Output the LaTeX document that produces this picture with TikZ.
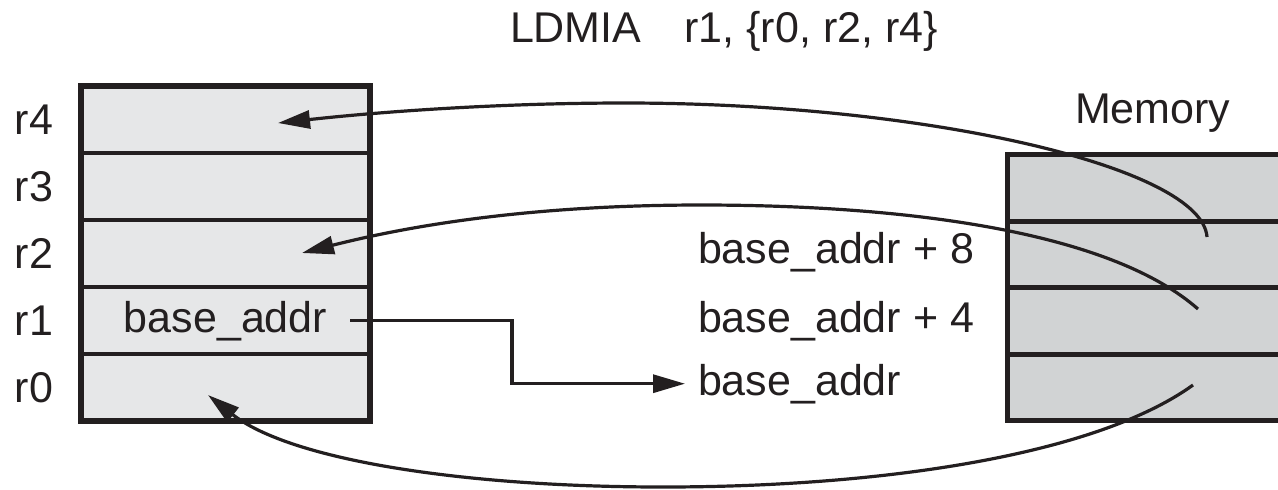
\documentclass[tikz,border=0pt]{standalone}
\usepackage{fontspec}
\setmainfont{Liberation Sans}
\usetikzlibrary{arrows.meta}
\definecolor{ink}{HTML}{231F20}
\definecolor{regfill}{HTML}{E6E7E8}
\definecolor{memfill}{HTML}{D1D3D4}
\begin{document}
\begin{tikzpicture}[x=0.5pt,y=-0.5pt,
  txt/.style={text=ink, inner sep=0pt, outer sep=0pt, font=\fontsize{21.5}{26}\selectfont},
  regcell/.style={draw=ink, fill=regfill, line width=1.7pt, minimum width=144.5pt, minimum height=33.5pt, inner sep=0pt, outer sep=0pt},
  memcell/.style={draw=ink, fill=memfill, line width=2.5pt, minimum width=146.25pt, minimum height=33.25pt, inner sep=0pt, outer sep=0pt},
  conn/.style={draw=ink, line width=1.6pt, -{Triangle[length=16pt,width=9pt]}}
]
\useasboundingbox (0,0) rectangle (1278,489);
\clip (0,0) rectangle (1278,489);

% register file
\node[regcell] (c4) at (225.5,119.5) {};
\node[regcell] (c3) at (225.5,186.5) {};
\node[regcell] (c2) at (225.5,253.5) {};
\node[regcell] (c1) at (225.5,320.5) {};
\node[regcell] (c0) at (225.5,387.5) {};
\draw[ink, line width=3pt] (c4.north west) rectangle (c0.south east);

% memory
\node[memcell] (m3) at (1153.75,187.75) {};
\node[memcell] (m2) at (1153.75,254.25) {};
\node[memcell] (m1) at (1153.75,320.75) {};
\node[memcell] (m0) at (1153.75,387.25) {};
\draw[ink, line width=2.5pt] (m3.north west) rectangle (m0.south east);

% labels
\node[txt, anchor=east] (l4) at (53,119.5) {r4};
\node[txt, anchor=east] (l3) at (53,186.5) {r3};
\node[txt, anchor=east] (l2) at (53,253.5) {r2};
\node[txt, anchor=east] (l1) at (53,320.5) {r1};
\node[txt, anchor=east] (l0) at (53,387.5) {r0};
\node[txt, anchor=base west] (title) at (510,42) {LDMIA\quad r1, \{r0, r2, r4\}};
\node[txt, anchor=base west] (memlbl) at (1075,123) {Memory};
\node[txt, anchor=base] (ba) at (225.5,332) {base\_addr};
\node[txt, anchor=base west] (b8) at (698,263) {base\_addr + 8};
\node[txt, anchor=base west] (b4) at (698,332) {base\_addr + 4};
\node[txt, anchor=base west] (b0) at (698,395) {base\_addr};

% connector end points
\coordinate (s4) at (1207,237);
\coordinate (t4) at (278,123);
\coordinate (s2) at (1198,309);
\coordinate (t2) at (302,253);
\coordinate (s0) at (1193,385);
\coordinate (t0) at (208,395);
\coordinate (jn) at (512,350);

\draw[conn] (s4) .. controls (1202,167) and (925,103) .. (625,103)
                 .. controls (505,103) and (387,111) .. (t4);
\draw[conn] (s2) .. controls (1108,230) and (901,205) .. (701,205)
                 .. controls (551,205) and (428,221) .. (t2);
\draw[conn] (s0) .. controls (1096,455) and (883,487) .. (663,487)
                 .. controls (463,487) and (290,460) .. (t0);
\draw[conn] ([xshift=11.5pt]ba.east) -| (jn) |- ([xshift=-6.5pt]b0.west);
\end{tikzpicture}
\end{document}
